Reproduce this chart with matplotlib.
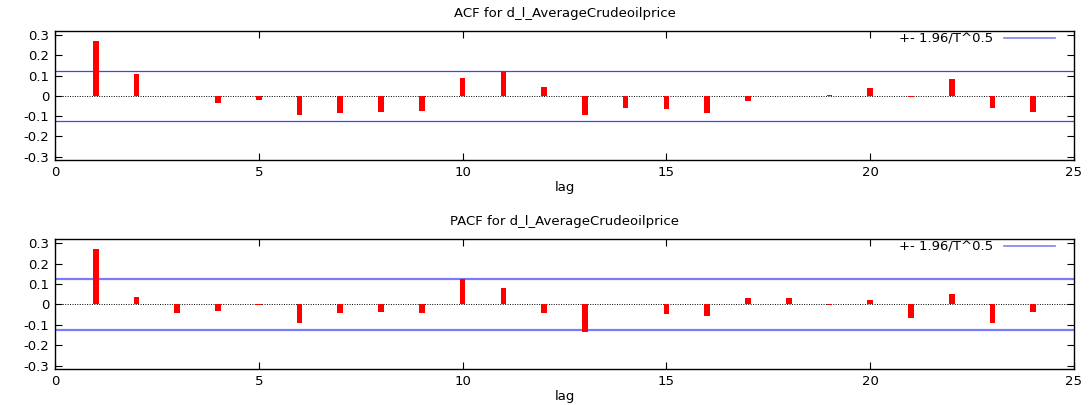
import matplotlib
matplotlib.use("Agg")
import matplotlib.pyplot as plt
import numpy as np

lags = list(range(1, 25))
acf_vals = [0.273, 0.108, 0.002, -0.037, -0.022, -0.093, -0.083, -0.080, -0.073, 0.088,
            0.125, 0.042, -0.095, -0.058, -0.067, -0.083, -0.025, 0.001, 0.003, 0.037,
            -0.005, 0.083, -0.060, -0.078]
pacf_vals = [0.272, 0.034, -0.041, -0.031, -0.001, -0.089, -0.041, -0.039, -0.041, 0.125,
             0.079, -0.041, -0.134, 0.002, -0.046, -0.056, 0.031, 0.031, -0.001, 0.021,
             -0.066, 0.051, -0.093, -0.039]
band = 0.123
titles = ["ACF for d_l_AverageCrudeoilprice", "PACF for d_l_AverageCrudeoilprice"]
yticks = [-0.3, -0.2, -0.1, 0, 0.1, 0.2, 0.3]
ytick_labels = ["-0.3", "-0.2", "-0.1", "0", "0.1", "0.2", "0.3"]
xticks = [0, 5, 10, 15, 20, 25]
legend_label = "+- 1.96/T^0.5"

plt.rcParams['font.family'] = ['DejaVu Sans']
fig = plt.figure(figsize=(10.91, 4.05), dpi=100)
W, H = 1091, 405
boxes = [(55, 31, 1074, 160), (55, 239, 1074, 369)]
series = [acf_vals, pacf_vals]
band_styles = [('#4444f2', 0.9), ('#7a7aff', 1.6)]
fs = 9.5

for (l, t, r, b), vals, title, (bc, bw) in zip(boxes, series, titles, band_styles):
    ax = fig.add_axes([l / W, 1 - b / H, (r - l) / W, (b - t) / H])
    ax.bar(lags, vals, width=0.14, color='#ff0000', zorder=3)
    ax.axhline(0, color='black', lw=0.7, ls=(0, (1, 1.5)), zorder=2)
    ax.axhline(band, color=bc, lw=bw, zorder=2, label=legend_label)
    ax.axhline(-band, color=bc, lw=bw, zorder=2)
    ax.set_xlim(0, 25)
    ax.set_ylim(-0.316, 0.32)
    ax.set_xticks(xticks)
    ax.set_xticklabels([str(x) for x in xticks], fontsize=fs)
    ax.set_yticks(yticks)
    ax.set_yticklabels(ytick_labels, fontsize=fs)
    ax.tick_params(direction='in', top=True, right=True, length=5, width=0.8, pad=4)
    ax.set_xlabel("lag", fontsize=fs, labelpad=2)
    ax.set_title(title, fontsize=fs, pad=10)
    for s in ax.spines.values():
        s.set_linewidth(1.0)
    leg = ax.legend(loc='upper right', bbox_to_anchor=(0.9814, 0.985), frameon=False,
                    fontsize=fs, markerfirst=False, handlelength=3.9,
                    borderaxespad=0, borderpad=0, handletextpad=0.8)
    for line in leg.get_lines():
        line.set_color('#8080f0')
        line.set_linewidth(1.2)

fig.savefig("out.png", dpi=100)
